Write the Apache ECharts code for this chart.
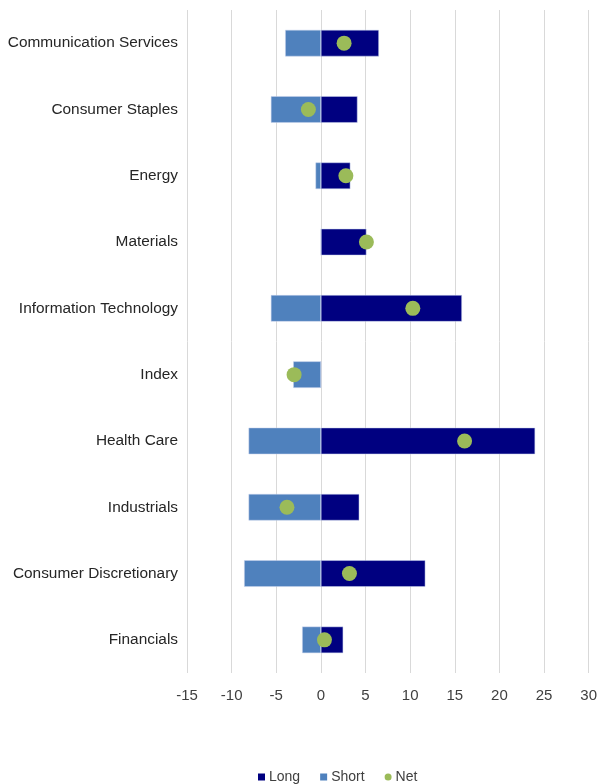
<!DOCTYPE html>
<html><head><meta charset="utf-8">
<script src="https://cdn.jsdelivr.net/npm/echarts@6/dist/echarts.min.js"></script>
<style>html,body{margin:0;padding:0;background:#fff}#c{width:600px;height:784px}</style>
</head><body><div id="c"></div>
<script>
var categories = ['Communication Services','Consumer Staples','Energy','Materials','Information Technology','Index','Health Care','Industrials','Consumer Discretionary','Financials'];
var longValues = [6.5, 4.1, 3.3, 5.1, 15.8, 0, 24.0, 4.3, 11.7, 2.5];
var shortValues = [-4.0, -5.6, -0.6, 0, -5.6, -3.1, -8.1, -8.1, -8.6, -2.1];
var netValues = [2.6, -1.4, 2.8, 5.1, 10.3, -3.0, 16.1, -3.8, 3.2, 0.4];
var xTicks = {min: -15, max: 30, interval: 5};

var chart = echarts.init(document.getElementById('c'), null, {renderer: 'canvas'});
chart.setOption({
  animation: false,
  textStyle: {fontFamily: 'Liberation Sans, Arial, sans-serif'},
  grid: {left: 187, right: 10, top: 10, bottom: 111, containLabel: false},
  legend: {
    top: 770, left: 258, padding: 0, itemWidth: 7, itemHeight: 7, itemGap: 20,
    textStyle: {fontSize: 14, color: '#404040', padding: [0,0,0,-1]},
    itemStyle: {borderWidth: 0},
    data: [{name: 'Long', icon: 'rect'}, {name: 'Short', icon: 'rect'}, {name: 'Net', icon: 'circle'}]
  },
  xAxis: {
    type: 'value', min: xTicks.min, max: xTicks.max, interval: xTicks.interval,
    axisLine: {show: false}, axisTick: {show: false},
    axisLabel: {fontSize: 15, color: '#404040', margin: 15},
    splitLine: {lineStyle: {color: '#d9d9d9', width: 1}}
  },
  yAxis: {
    type: 'category', data: categories, inverse: true,
    axisLine: {show: false}, axisTick: {show: false},
    axisLabel: {fontSize: 15.4, color: '#262626', margin: 9}
  },
  series: [
    {name: 'Long', type: 'bar', data: longValues, barWidth: '40%', barGap: '-100%',
     itemStyle: {color: '#000080', borderColor: '#c9d3ec', borderWidth: 0.5}},
    {name: 'Short', type: 'bar', data: shortValues, barWidth: '40%', barGap: '-100%',
     itemStyle: {color: '#4f81bd', borderColor: '#c9d3ec', borderWidth: 0.5}},
    {name: 'Net', type: 'scatter', data: netValues, symbol: 'circle', symbolSize: 15,
     itemStyle: {color: '#9bbb59', opacity: 1}, z: 5}
  ]
});
</script></body></html>
